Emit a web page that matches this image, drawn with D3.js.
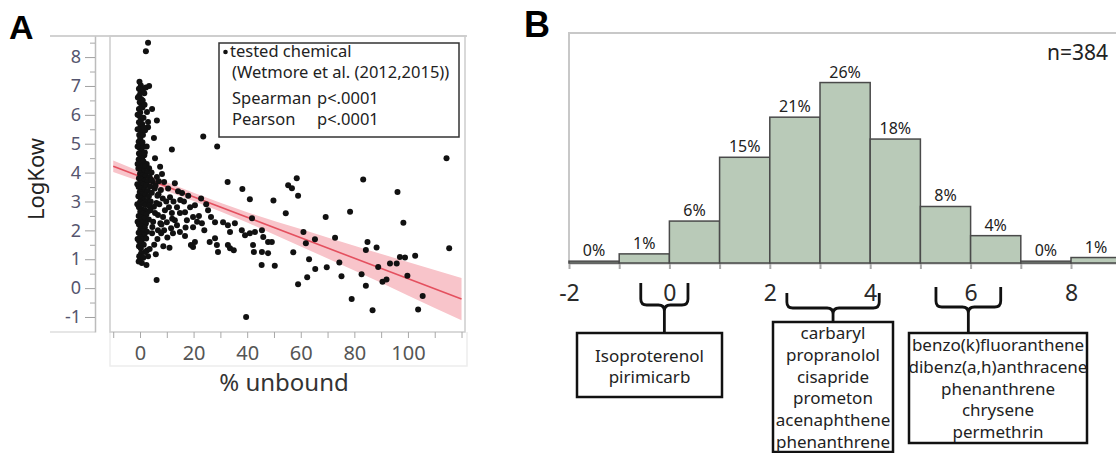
<!DOCTYPE html>
<html>
<head>
<meta charset="utf-8">
<script src="https://cdn.jsdelivr.net/npm/d3@7"></script>
<style>
  body { margin: 0; background: #fff; }
  svg { display: block; }
</style>
</head>
<body>
<div id="chart"></div>
<script>
// ===== Panel A data: % unbound (x) vs LogKow (y) =====
const topPoints = [[3, 8.5], [2.2, 8.2]];

// upper part of the column at ~0 % unbound
const columnUpper = [
  [-0.2, 7.15], [0.3, 7.02], [-0.4, 6.9], [0.2, 6.78], [-0.3, 6.66], [0.4, 6.55],
  [-0.1, 6.44], [0.5, 6.3], [-0.4, 6.2], [0.1, 6.08], [-0.2, 5.96], [0.4, 5.85],
  [-0.4, 5.74], [0.2, 5.62], [-0.1, 5.5], [0.5, 5.4], [-0.3, 5.3], [0.1, 5.18],
  [-0.5, 5.07], [0.3, 4.96], [-0.1, 4.85], [0.6, 4.76], [-0.4, 4.66], [0.2, 4.56],
  [1.2, 6.9], [1.0, 6.5], [1.3, 5.9], [1.1, 5.3], [1.4, 4.9], [2.2, 6.95],
  [3.4, 7.0], [4.5, 6.2], [6.3, 5.8], [3, 5.57], [1.9, 5.47], [5.2, 5.2],
  [3, 5.75], [2.6, 6.1], [1.8, 4.7], [2.5, 4.9],
  [1.6, 6.75], [0.9, 6.25], [1.7, 6.35], [0.8, 5.68], [1.5, 5.55], [0.9, 5.05],
  [1.6, 4.6], [0.8, 4.48], [-0.9, 6.0], [-0.9, 5.5], [-0.9, 4.9], [-0.8, 6.6],
  [-0.9, 4.3], [-1.0, 3.6], [-1.0, 2.9], [-0.9, 2.3], [-0.9, 1.7]
];

// wide middle part of the column
const columnMiddle = [
  [-0.5, 4.45], [0.4, 4.4], [1.3, 4.38], [2.5, 4.3], [5.6, 4.5],
  [-0.2, 4.3], [0.9, 4.22], [1.9, 4.2], [3.4, 4.15], [7.5, 4.2],
  [-0.6, 4.14], [0.3, 4.08], [1.5, 4.05], [2.8, 4.02], [4.3, 4.0],
  [0.0, 3.96], [1.0, 3.9], [2.1, 3.88], [3.6, 3.85], [6.3, 3.85],
  [-0.4, 3.8], [0.6, 3.75], [1.7, 3.72], [2.9, 3.7], [4.8, 3.68],
  [0.1, 3.64], [1.2, 3.58], [2.3, 3.56], [3.8, 3.52], [5.5, 3.45],
  [-0.5, 3.5], [0.5, 3.44], [1.6, 3.4], [2.9, 3.36], [4.4, 3.3],
  [-0.1, 3.33], [0.9, 3.26], [2.0, 3.22], [3.3, 3.18], [6.5, 3.2],
  [-0.6, 3.18], [0.3, 3.1], [1.4, 3.06], [2.6, 3.02], [4.0, 3.0],
  [0.0, 2.98], [1.0, 2.92], [2.1, 2.88], [3.5, 2.85], [5.2, 2.82]
];

// lower part of the column
const columnLower = [
  [-0.4, 2.8], [0.6, 2.74], [1.8, 2.7], [3.0, 2.66],
  [0.1, 2.64], [1.2, 2.58], [2.4, 2.55],
  [-0.5, 2.5], [0.5, 2.44], [1.6, 2.4], [3.3, 2.38],
  [0.0, 2.34], [1.0, 2.28], [2.2, 2.24],
  [-0.4, 2.2], [0.6, 2.14], [1.8, 2.1], [4.6, 2.12],
  [0.1, 2.04], [1.2, 1.98], [2.6, 1.95],
  [-0.5, 1.92], [0.4, 1.86], [1.6, 1.84],
  [0.0, 1.76], [1.0, 1.7], [2.3, 1.72],
  [-0.3, 1.62], [0.6, 1.55], [1.4, 1.5], [-0.4, 1.45], [0.3, 1.38], [2.6, 1.3],
  [1.9, 1.25], [0.4, 1.2], [-0.3, 1.1], [1.2, 1.05], [0.0, 0.97], [0.7, 0.87],
  [-0.5, 0.92], [3.6, 1.35], [6.2, 0.28], [5.9, 1.17]
];

// cluster between 3 and 50 % unbound
const clusterPoints = [
  [8.7, 1.45], [9, 3.67], [13, 3.63], [15.7, 3.29], [18, 3.2], [11.2, 3.15],
  [22.8, 3.1], [20.5, 2.87], [13.8, 2.8], [16.8, 2.63], [9.3, 2.7], [6.7, 2.53],
  [25.4, 2.7], [26.5, 2.46], [23.1, 2.25], [28, 2.28], [31, 2.28], [19.8, 2.46],
  [17.5, 2.35], [13, 2.35], [10, 2.28], [13.8, 2.18], [11.6, 2.07], [9, 2.0],
  [6.7, 2.0], [14.9, 1.94], [16.8, 1.8], [19.8, 2.11], [32.8, 2.18], [33.6, 1.94],
  [35.4, 2.25], [38, 2.0], [39.2, 1.83], [41, 1.9], [42.9, 1.94], [45.5, 2.0],
  [46, 1.77], [47.8, 1.6], [49.2, 1.6], [28, 1.73], [28.7, 1.49], [29.1, 1.25],
  [32.8, 1.49], [33.6, 1.38], [35, 1.31], [20.5, 1.6], [19.8, 1.42], [19, 1.49],
  [42.2, 1.49], [42.5, 1.25], [45.5, 1.25], [47.8, 1.21], [18.7, 2.8], [14.9, 2.6],
  [8.6, 2.46], [11.9, 2.6], [41.8, 2.42], [7.8, 3.4], [10.5, 3.45], [12.5, 3.0],
  [15, 3.05], [7.2, 2.9], [8.5, 3.1], [10.2, 1.75], [12.3, 1.9], [22, 2.5],
  [24, 2.0], [6.5, 1.7], [7.6, 2.25], [11, 1.4],
  [4.2, 3.75], [5.8, 3.55], [7, 3.7], [8.2, 3.95], [6.9, 3.25], [9.8, 3.0],
  [5.6, 2.6], [4.9, 2.3], [8, 2.2], [6.1, 2.95], [10.8, 2.8], [12, 2.4],
  [14.2, 3.35], [16.4, 3.0], [3.9, 2.7], [4.5, 1.9], [5.3, 1.5], [3.0, 1.1],
  [2.4, 0.8], [7.9, 1.9], [17, 2.1], [21.3, 2.3], [24.7, 2.9], [26, 1.6]
];

// scattered points
const sparsePoints = [
  [11.9, 4.8], [23.6, 5.25], [28.8, 4.9], [32.7, 3.67], [38.2, 3.43], [41, 3.08],
  [49.8, 3.03], [54.4, 2.59], [55.3, 3.56], [56.7, 3.46], [58.5, 3.8], [59, 3.2],
  [57.2, 1.24], [61, 1.94], [61.9, 1.55], [65.3, 1.69], [63.1, 1.0], [65.4, 0.66],
  [62.4, 0.38], [59, 0.13], [69.3, 2.46], [69.7, 0.72], [72.8, 1.74], [74.4, 0.89],
  [75.2, 0.41], [78.4, 2.64], [79, -0.38], [82.7, 0.48], [83.3, 3.76], [84.3, 1.32],
  [84.9, 1.6], [84.3, 0.08], [86.8, -0.77], [88.3, 1.41], [88.9, 0.73], [90.5, 0.22],
  [92, 0.3], [93.3, 0.85], [95.8, 0.85], [96.1, 3.33], [97, 1.08], [98.3, 2.26],
  [98.9, 1.06], [99.8, 0.43], [102.7, 1.12], [103.8, -0.74], [105.5, -0.27],
  [114.4, 4.5], [115.4, 1.38], [39.6, -1.0], [45.4, 0.8], [50.3, 0.77]
];

// fitted line ends and confidence band half widths
const fitEnds = [[-10, 4.22], [120, -0.38]];
const bandX = [-10, 0, 10, 20, 30, 40, 60, 80, 100, 120];
const bandHalf = [0.2, 0.17, 0.15, 0.14, 0.15, 0.18, 0.3, 0.43, 0.58, 0.73];

const xTicksA = [0, 20, 40, 60, 80, 100];
const xAllTicksA = [-10, 0, 10, 20, 30, 40, 50, 60, 70, 80, 90, 100, 110, 120];
const yTicksA = [-1, 0, 1, 2, 3, 4, 5, 6, 7, 8];
const yMinorA = [-0.5, 0.5, 1.5, 2.5, 3.5, 4.5, 5.5, 6.5, 7.5, 8.5];

// ===== Panel B data: LogKow histogram =====
const binStarts = [-2, -1, 0, 1, 2, 3, 4, 5, 6, 7, 8];
const binCounts = [1, 5, 23, 58, 80, 99, 68, 31, 15, 1, 3];
const nTotal = 384;
const xTicksB = [-2, -1, 0, 1, 2, 3, 4, 5, 6, 7, 8, 9];
const groupRanges = [[-0.57, 0.37], [2.34, 4.18], [5.31, 6.6]];
const groupNames = [
  ["Isoproterenol", "pirimicarb"],
  ["carbaryl", "propranolol", "cisapride", "prometon", "acenaphthene", "phenanthrene"],
  ["benzo(k)fluoranthene", "dibenz(a,h)anthracene", "phenanthrene", "chrysene", "permethrin"]
];

const FONT = "'Noto Sans', 'Open Sans', sans-serif";

const svg = d3.select("#chart").append("svg")
  .attr("width", 1116).attr("height", 453);

// ================= PANEL A =================
const xA = d3.scaleLinear().domain([-11.2, 121.3]).range([110, 465]);
const yA = d3.scaleLinear().domain([-1.52, 8.73]).range([332, 36]);
const gA = svg.append("g");

// frame pieces
gA.append("line").attr("x1", 50).attr("x2", 467).attr("y1", 36).attr("y2", 36)
  .attr("stroke", "#d2d2d2").attr("stroke-width", 2);
gA.append("line").attr("x1", 50).attr("x2", 95).attr("y1", 332).attr("y2", 332)
  .attr("stroke", "#dedede").attr("stroke-width", 1.5);
gA.append("path").attr("d", "M110,332V366H467V332")
  .attr("fill", "none").attr("stroke", "#ededed").attr("stroke-width", 1.5);
gA.append("rect").attr("x", 110).attr("y", 36).attr("width", 355).attr("height", 296)
  .attr("fill", "none").attr("stroke", "#cdcdcd").attr("stroke-width", 1.5);

// y axis
const yAxisA = gA.append("g").attr("transform", "translate(95,0)")
  .call(d3.axisLeft(yA).tickValues(yTicksA).tickSize(10).tickSizeOuter(0)
    .tickPadding(4).tickFormat((d) => String(d)));
yAxisA.select(".domain").attr("stroke", "#bcbcbc").attr("stroke-width", 1.5);
yAxisA.selectAll(".tick line").attr("stroke", "#a0a0a0");
yAxisA.selectAll("text").attr("font-family", FONT).attr("font-size", 18).attr("fill", "#55556e");

const yMinorAxis = gA.append("g").attr("transform", "translate(95,0)")
  .call(d3.axisLeft(yA).tickValues(yMinorA).tickSize(5).tickFormat(""));
yMinorAxis.select(".domain").remove();
yMinorAxis.selectAll(".tick line").attr("stroke", "#a8a8a8");

// x axis
const xAxisA = gA.append("g").attr("transform", "translate(0,332)")
  .call(d3.axisBottom(xA).tickValues(xAllTicksA).tickSize(6).tickSizeOuter(0)
    .tickPadding(8).tickFormat((d) => (xTicksA.includes(d) ? String(d) : "")));
xAxisA.select(".domain").remove();
xAxisA.selectAll(".tick line").attr("stroke", "#a8a8a8");
xAxisA.selectAll("text").attr("font-family", FONT).attr("font-size", 20).attr("fill", "#555");

// axis titles
gA.append("text").attr("transform", "translate(44,179) rotate(-90)")
  .attr("text-anchor", "middle").attr("font-family", FONT).attr("font-size", 22)
  .attr("fill", "#222").text("LogKow");
gA.append("text").attr("x", 284).attr("y", 391).attr("text-anchor", "middle")
  .attr("font-family", FONT).attr("font-size", 24).attr("fill", "#333").text("% unbound");

// fit band and line
const fit = (x) => fitEnds[0][1] +
  (x - fitEnds[0][0]) * (fitEnds[1][1] - fitEnds[0][1]) / (fitEnds[1][0] - fitEnds[0][0]);
const bandData = bandX.map((x, i) => ({ x: x, lo: fit(x) - bandHalf[i], hi: fit(x) + bandHalf[i] }));
gA.append("path").datum(bandData)
  .attr("d", d3.area().x((d) => xA(d.x)).y0((d) => yA(d.lo)).y1((d) => yA(d.hi)).curve(d3.curveMonotoneX))
  .attr("fill", "#f8c4ca");
gA.append("path").datum(fitEnds)
  .attr("d", d3.line().x((d) => xA(d[0])).y((d) => yA(d[1])))
  .attr("fill", "none").attr("stroke", "#e4505f").attr("stroke-width", 1.6);

// points
const scatterPoints = [].concat(topPoints, columnUpper, columnMiddle, columnLower, clusterPoints, sparsePoints);
gA.append("g").selectAll("circle").data(scatterPoints).enter().append("circle")
  .attr("cx", (d) => xA(d[0])).attr("cy", (d) => yA(d[1])).attr("r", 3)
  .attr("fill", "#111");

// legend
const leg = gA.append("g");
leg.append("rect").attr("x", 219).attr("y", 43).attr("width", 240).attr("height", 94)
  .attr("fill", "#fff").attr("stroke", "#333").attr("stroke-width", 1.5);
leg.append("circle").attr("cx", 225.5).attr("cy", 52).attr("r", 2.3).attr("fill", "#111");
const legText = (x, y, s) => leg.append("text").attr("x", x).attr("y", y)
  .attr("font-family", FONT).attr("font-size", 16.5).attr("fill", "#222").text(s);
legText(230, 57, "tested chemical");
legText(232, 78, "(Wetmore et al. (2012,2015))");
legText(232, 104, "Spearman");
legText(317, 104, "p<.0001");
legText(232, 125, "Pearson");
legText(317, 125, "p<.0001");

gA.append("text").attr("x", 9).attr("y", 39).attr("font-family", "'Liberation Sans', Arial, sans-serif")
  .attr("font-weight", "bold").attr("font-size", 34).attr("fill", "#000").text("A");

// ================= PANEL B =================
const xB = d3.scaleLinear().domain([-2, 9]).range([569, 569 + 11 * 50.2]);
const yB = d3.scaleLinear().domain([0, 32.86]).range([263, 33]);
const gB = svg.append("g");

gB.append("path").attr("d", "M569,263V33H1116")
  .attr("fill", "none").attr("stroke", "#c8c8c8").attr("stroke-width", 2);

const xAxisB = gB.append("g").attr("transform", "translate(0,263)")
  .call(d3.axisBottom(xB).tickValues(xTicksB).tickSize(6).tickSizeOuter(0)
    .tickPadding(16).tickFormat((d) => (d % 2 === 0 ? String(d) : "")));
xAxisB.select(".domain").attr("stroke", "#b8b8b8").attr("stroke-width", 2);
xAxisB.selectAll(".tick line").attr("stroke", "#aaa").attr("stroke-width", 2);
xAxisB.selectAll("text").attr("font-family", FONT).attr("font-size", 23).attr("fill", "#2a2a2a");

const bins = binStarts.map((s, i) => ({ start: s, pct: binCounts[i] / nTotal * 100 }));
gB.append("g").selectAll("rect").data(bins).enter().append("rect")
  .attr("x", (d) => xB(d.start)).attr("width", (d) => xB(d.start + 1) - xB(d.start))
  .attr("y", (d) => yB(d.pct)).attr("height", (d) => yB(0) - yB(d.pct))
  .attr("fill", "#b9cab8").attr("stroke", "#4a4a4a").attr("stroke-width", 1.5);
gB.append("g").selectAll("text").data(bins).enter().append("text")
  .attr("x", (d) => xB(d.start + 0.5)).attr("y", (d) => yB(d.pct) - 5)
  .attr("text-anchor", "middle").attr("font-family", FONT).attr("font-size", 16)
  .attr("fill", "#222").text((d) => Math.round(d.pct) + "%");

gB.append("text").attr("x", 1108).attr("y", 60).attr("text-anchor", "end")
  .attr("font-family", FONT).attr("font-size", 21).attr("fill", "#222").text("n=" + nTotal);

gB.append("text").attr("x", 524).attr("y", 37).attr("font-family", "'Liberation Sans', Arial, sans-serif")
  .attr("font-weight", "bold").attr("font-size", 36).attr("fill", "#000").text("B");

// braces and name boxes (layout in pixels)
const braceLayout = [
  { top: 283, bar: 305, stem: 333, box: [577, 333, 145, 64], first: 362, gap: 21 },
  { top: 293, bar: 308, stem: 322, box: [773, 322, 120, 130], first: 339, gap: 21.8 },
  { top: 287, bar: 307, stem: 333, box: [909, 333, 178, 110], first: 351, gap: 21.8 }
];
groupRanges.forEach((r, i) => {
  const L = braceLayout[i];
  const x0 = xB(r[0]), x1 = xB(r[1]), xc = (x0 + x1) / 2, rr = 6;
  const p = d3.path();
  p.moveTo(x0, L.top); p.lineTo(x0, L.bar - rr);
  p.quadraticCurveTo(x0, L.bar, x0 + rr, L.bar); p.lineTo(xc - rr, L.bar);
  p.quadraticCurveTo(xc, L.bar, xc, L.bar + rr); p.lineTo(xc, L.stem);
  p.moveTo(x1, L.top); p.lineTo(x1, L.bar - rr);
  p.quadraticCurveTo(x1, L.bar, x1 - rr, L.bar); p.lineTo(xc + rr, L.bar);
  p.quadraticCurveTo(xc, L.bar, xc, L.bar + rr);
  gB.append("path").attr("d", p.toString()).attr("fill", "none")
    .attr("stroke", "#111").attr("stroke-width", 2.8);
  gB.append("rect").attr("x", L.box[0]).attr("y", L.box[1])
    .attr("width", L.box[2]).attr("height", L.box[3])
    .attr("fill", "#fff").attr("stroke", "#111").attr("stroke-width", 2.5);
  gB.append("g").selectAll("text").data(groupNames[i]).enter().append("text")
    .attr("x", L.box[0] + L.box[2] / 2).attr("y", (d, j) => L.first + j * L.gap)
    .attr("text-anchor", "middle").attr("font-family", FONT).attr("font-size", 17)
    .attr("fill", "#222").text((d) => d);
});
</script>
</body>
</html>
